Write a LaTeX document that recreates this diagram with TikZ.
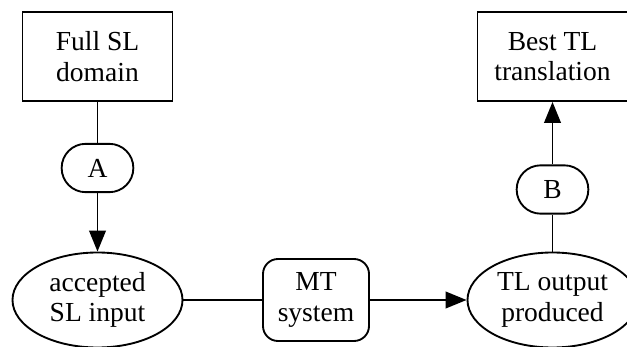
\documentclass[tikz,border=0pt]{standalone}
\usepackage{fontspec}
\setmainfont{Liberation Serif}
\usepackage{tikz}
\usetikzlibrary{arrows.meta, shapes.geometric}

\begin{document}
\begin{tikzpicture}[x=0.03cm, y=-0.03cm,
    every node/.style={font=\fontsize{23.5}{26}\selectfont, align=center,
      line width=1.6pt, inner sep=0pt},
    plainbox/.style={draw, rectangle, minimum width=4.5cm, minimum height=2.67cm},
    tagbox/.style={draw, rectangle, rounded corners=0.72cm,
      minimum width=2.15cm, minimum height=1.45cm},
    sysbox/.style={draw, rectangle, rounded corners=0.45cm,
      minimum width=3.18cm, minimum height=2.46cm},
    stage/.style={draw, ellipse, minimum width=5.1cm, minimum height=2.85cm},
    link/.style={line width=1.6pt},
    flow/.style={line width=1.6pt, -{Triangle[length=0.63cm, width=0.5cm]}}]
  \useasboundingbox (0,0) rectangle (627,347);

  % Top boxes
  \node[plainbox] (fullsl) at (97.5, 56.5) {Full SL\\domain};
  \node[plainbox] (besttl) at (552.5, 56.5) {Best TL\\translation};

  % Filters
  \node[tagbox] (nodeA) at (97.5, 168) {A};
  \node[tagbox] (nodeB) at (552.5, 189.5) {B};

  % Bottom row
  \node[stage] (accepted) at (97.5, 300) {accepted\\SL input};
  \node[sysbox] (mtsys) at (316, 300) {MT\\system};
  \node[stage] (tlout) at (552.5, 300) {TL output\\produced};

  % Connectors
  \draw[link] (fullsl) -- (nodeA);
  \draw[flow] (nodeA) -- (accepted);
  \draw[link] (accepted) -- (mtsys);
  \draw[flow] (mtsys) -- (tlout);
  \draw[link] (tlout) -- (nodeB);
  \draw[flow] (nodeB) -- (besttl);
\end{tikzpicture}
\end{document}
